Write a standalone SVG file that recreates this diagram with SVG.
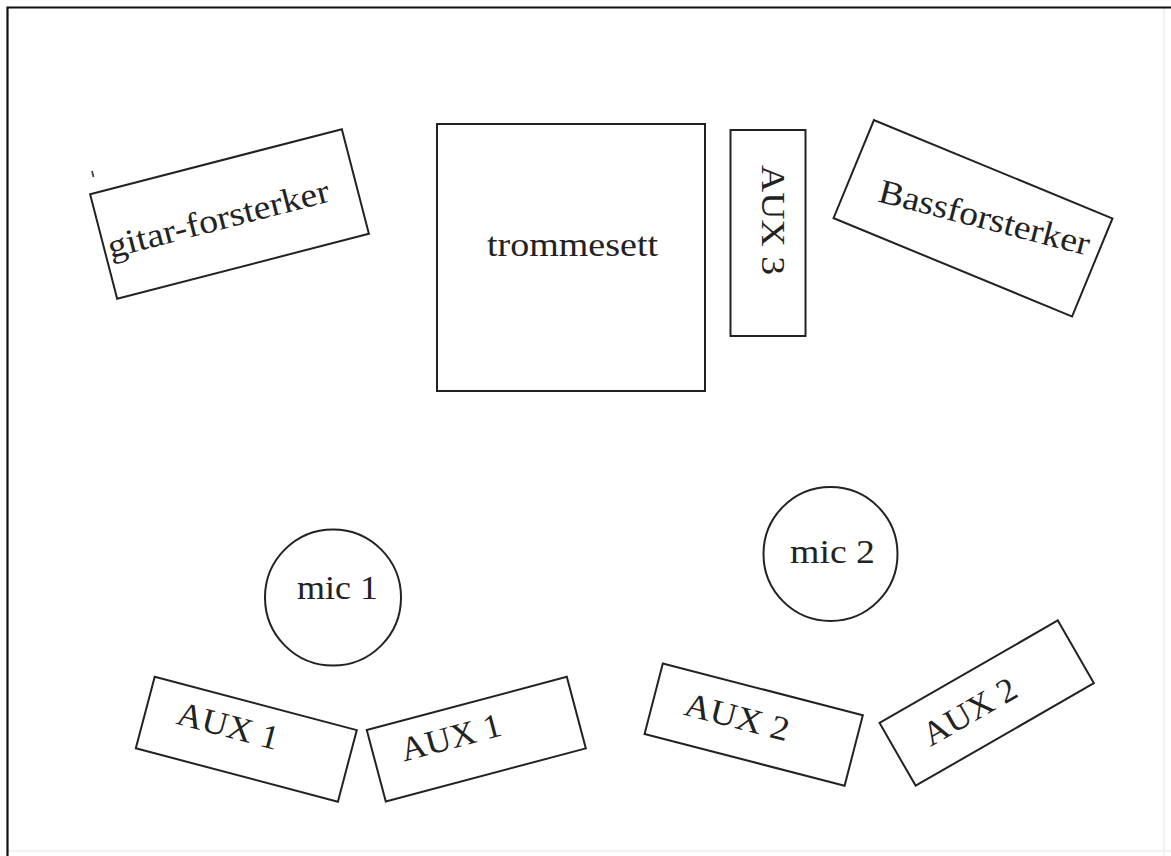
<svg xmlns="http://www.w3.org/2000/svg" width="1171" height="856" viewBox="0 0 1171 856">
<style>
.box{fill:#fff;stroke:#222;stroke-width:2}
.lbl{font-family:"Liberation Serif","Times New Roman",serif;font-size:34px;fill:#222;text-anchor:middle}
.frame{stroke:#111;stroke-width:2.2;fill:none}
.faint{stroke:#ececec;stroke-width:1.5;fill:none}
</style>
<rect width="1171" height="856" fill="#fff"/>
<g id="frame">
<line class="faint" x1="1164" y1="7" x2="1164" y2="856"/>
<line class="faint" x1="7" y1="851" x2="1171" y2="851"/>
<polyline class="frame" points="7.5,856 7.5,7.5 1171,7.5"/>
<line x1="92" y1="171" x2="93.5" y2="177" stroke="#444" stroke-width="1.8"/>
</g>
<g id="connectors"></g>
<g id="gitar-forsterker" transform="translate(229.5,214) rotate(-14.5)">
<rect class="box" x="-130" y="-54" width="260" height="108"/>
<text class="lbl" x="-12" y="13" textLength="228" lengthAdjust="spacingAndGlyphs">gitar-forsterker</text>
</g>
<g id="trommesett">
<rect class="box" x="437" y="124" width="268" height="267"/>
<text class="lbl" x="572.5" y="256" textLength="171" lengthAdjust="spacingAndGlyphs">trommesett</text>
</g>
<g id="aux3">
<rect class="box" x="730.5" y="130" width="75" height="206"/>
<text class="lbl" transform="translate(762,220) rotate(90)" x="0" y="0" textLength="110" lengthAdjust="spacingAndGlyphs">AUX 3</text>
</g>
<g id="bassforsterker">
<rect class="box" transform="translate(973,218.3) rotate(22.4)" x="-129" y="-53" width="258" height="106"/>
<text class="lbl" transform="translate(981.7,228.3) rotate(14.5)" x="0" y="0" textLength="217" lengthAdjust="spacingAndGlyphs">Bassforsterker</text>
</g>
<g id="mic1">
<circle class="box" cx="333" cy="597.5" r="68"/>
<text class="lbl" x="337.5" y="599" textLength="81" lengthAdjust="spacingAndGlyphs">mic 1</text>
</g>
<g id="mic2">
<circle class="box" cx="830.5" cy="554" r="67"/>
<text class="lbl" x="832.5" y="563" textLength="85" lengthAdjust="spacingAndGlyphs">mic 2</text>
</g>
<g id="aux1-left" transform="translate(246.3,739.2) rotate(14.8)">
<rect class="box" x="-104.5" y="-37" width="209" height="74"/>
<text class="lbl" x="-21" y="3" textLength="104" lengthAdjust="spacingAndGlyphs">AUX 1</text>
</g>
<g id="aux1-right" transform="translate(476.3,739.2) rotate(-14.9)">
<rect class="box" x="-103.5" y="-37" width="207" height="74"/>
<text class="lbl" x="-24" y="3" textLength="103" lengthAdjust="spacingAndGlyphs">AUX 1</text>
</g>
<g id="aux2-left" transform="translate(753.7,724.6) rotate(14.5)">
<rect class="box" x="-103.3" y="-36.4" width="206.6" height="72.8"/>
<text class="lbl" x="-18" y="8" textLength="107" lengthAdjust="spacingAndGlyphs">AUX 2</text>
</g>
<g id="aux2-right" transform="translate(986.7,703.1) rotate(-29.9)">
<rect class="box" x="-102.8" y="-36.2" width="205.6" height="72.4"/>
<text class="lbl" x="-19" y="10" textLength="103" lengthAdjust="spacingAndGlyphs">AUX 2</text>
</g>
</svg>
